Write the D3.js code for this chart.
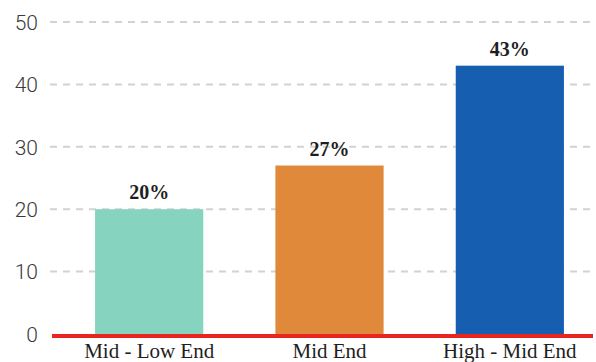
<!DOCTYPE html>
<html>
<head>
<meta charset="utf-8">
<script src="https://cdn.jsdelivr.net/npm/d3@7"></script>
<style>
  html, body { margin: 0; padding: 0; background: #fff; }
  svg { display: block; }
</style>
</head>
<body>
<svg id="chart" width="596" height="362"></svg>
<script>
// Share of the market by segment (percent)
const categories = ["Mid - Low End", "Mid End", "High - Mid End"];
const values = [20, 27, 43];
const valueLabels = ["20%", "27%", "43%"];
const barColors = ["#86d3c0", "#e0893b", "#165fb0"];
const yTicks = [0, 10, 20, 30, 40, 50];

const svg = d3.select("#chart");
const plotLeft = 50, plotRight = 592, plotTop = 22, plotBottom = 334;

const x = d3.scaleBand()
  .domain(categories)
  .range([59, 600])
  .paddingInner(0.4)
  .paddingOuter(0.2);

const y = d3.scaleLinear().domain([0, 50]).range([plotBottom, plotTop]);

// Dashed gridlines
svg.append("g")
  .selectAll("line")
  .data(yTicks.filter(d => d > 0))
  .join("line")
  .attr("x1", plotLeft)
  .attr("x2", plotRight)
  .attr("y1", d => y(d))
  .attr("y2", d => y(d))
  .attr("stroke", "#d2d2d2")
  .attr("stroke-width", 2)
  .attr("stroke-dasharray", "7,6");

// Y axis tick labels
const yAxis = d3.axisLeft(y).tickValues(yTicks).tickSize(0).tickPadding(0);
const gy = svg.append("g")
  .attr("transform", `translate(38,0)`)
  .call(yAxis);
gy.select(".domain").remove();
gy.selectAll("text")
  .attr("font-family", "Roboto, 'DejaVu Sans', sans-serif")
  .attr("font-weight", 300)
  .attr("font-size", 21)
  .attr("fill", "#3a3a3a")
  .attr("dy", "0.35em");

// Bars
svg.append("g")
  .selectAll("rect")
  .data(values)
  .join("rect")
  .attr("x", (d, i) => x(categories[i]))
  .attr("width", x.bandwidth())
  .attr("y", d => y(d))
  .attr("height", d => y(0) - y(d))
  .attr("fill", (d, i) => barColors[i]);

// Value labels
svg.append("g")
  .selectAll("text")
  .data(values)
  .join("text")
  .attr("x", (d, i) => x(categories[i]) + x.bandwidth() / 2)
  .attr("y", d => y(d) - 10)
  .attr("text-anchor", "middle")
  .attr("font-family", "'Liberation Serif', 'DejaVu Serif', serif")
  .attr("font-weight", "bold")
  .attr("font-size", 20)
  .attr("fill", "#1e1e1e")
  .text((d, i) => valueLabels[i]);

// Baseline
svg.append("line")
  .attr("x1", 52)
  .attr("x2", 593)
  .attr("y1", y(0) + 2)
  .attr("y2", y(0) + 2)
  .attr("stroke", "#e8261f")
  .attr("stroke-width", 4);

// Category labels
svg.append("g")
  .selectAll("text")
  .data(categories)
  .join("text")
  .attr("x", d => x(d) + x.bandwidth() / 2)
  .attr("y", 358)
  .attr("text-anchor", "middle")
  .attr("font-family", "'Liberation Serif', 'DejaVu Serif', serif")
  .attr("font-size", 21)
  .attr("fill", "#1e1e1e")
  .text(d => d);
</script>
</body>
</html>
